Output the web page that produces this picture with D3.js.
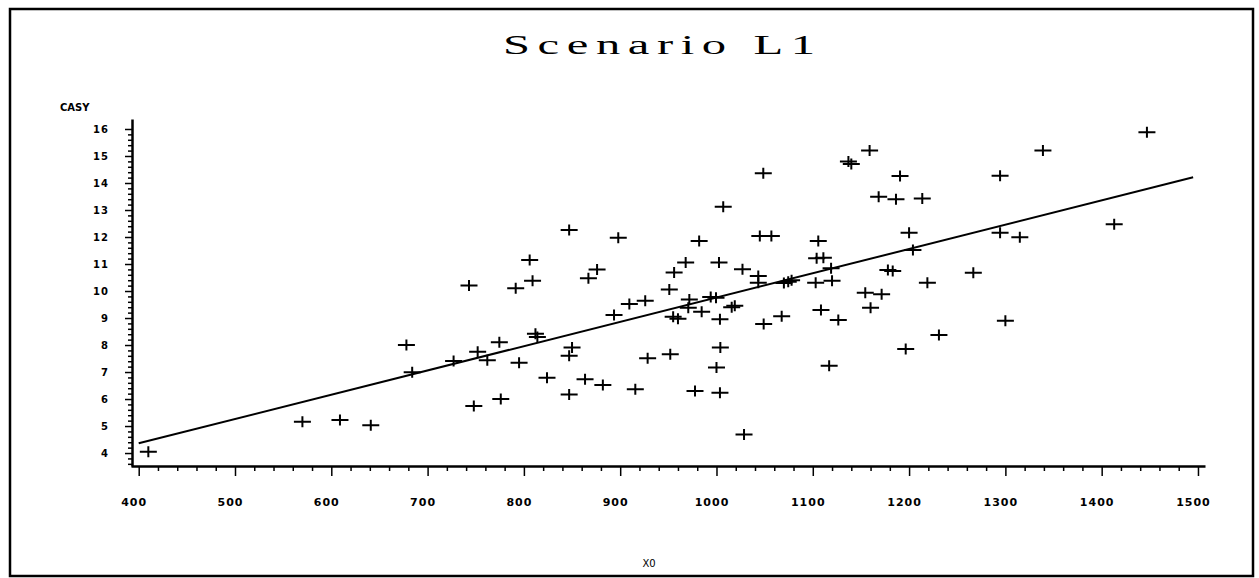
<!DOCTYPE html>
<html>
<head>
<meta charset="utf-8">
<script src="https://cdn.jsdelivr.net/npm/d3@7"></script>
<style>
  html, body { margin: 0; padding: 0; background: #fff; }
  svg { display: block; }
</style>
</head>
<body>
<svg id="chart" width="1259" height="578"></svg>
<script>
// Observations: X0 against CASY
const x0 = [
  410, 570, 609, 641, 678,
  684, 743, 748, 727, 752, 762, 774.5, 776, 791.5, 806, 809, 795, 812, 814, 824,
  847, 850, 847, 847, 863.5, 867, 876, 882, 893.6, 898, 909.5, 915.7, 926, 928.5,
  951, 952, 956, 955, 960,
  968, 971.8, 970.7, 982, 984.6, 977.7, 1002.6, 999.5, 994, 1003.6, 1004, 1000, 1003.6,
  1007, 1015.8, 1019, 1027, 1028.6, 1043.4, 1043.4, 1045, 1057, 1048.6, 1049, 1067.7,
  1074.5, 1078, 1070, 1103, 1105.7, 1104, 1111, 1108.5, 1119, 1120, 1117, 1126.5,
  1137, 1140, 1159, 1154.5, 1171.5, 1160, 1168.4, 1186.4, 1190.6, 1178, 1183,
  1200, 1204, 1213.7, 1219, 1196.5, 1231,
  1266.7, 1294.5, 1294.5, 1300, 1315, 1339, 1413, 1447
];
const casy = [
  4.05, 5.16, 5.22, 5.03, 8.0,
  6.99, 10.2, 5.74, 7.41, 7.75, 7.44, 8.1, 6.0, 10.1, 11.15, 10.38, 7.34, 8.42, 8.3, 6.79,
  12.26, 7.91, 7.6, 6.17, 6.73, 10.47, 10.8, 6.52, 9.11, 11.97, 9.52, 6.36, 9.64, 7.51,
  10.06, 7.66, 10.69, 9.05, 8.97,
  11.06, 9.69, 9.38, 11.85, 9.23, 6.3, 11.06, 9.75, 9.78, 8.95, 7.91, 7.17, 6.23,
  13.12, 9.4, 9.45, 10.81, 4.69, 10.56, 10.31, 12.04, 12.04, 14.36, 8.78, 9.07,
  10.34, 10.4, 10.3, 10.31, 11.85, 11.21, 11.23, 9.3, 10.84, 10.38, 7.23, 8.93,
  14.8, 14.7, 15.2, 9.94, 9.88, 9.38, 13.49, 13.4, 14.26, 10.78, 10.74,
  12.16, 11.52, 13.43, 10.31, 7.85, 8.37,
  10.68, 14.27, 12.16, 8.9, 11.99, 15.2, 12.47, 15.88
];

// Least-squares fit line end points
const fitX = [400, 1495];
const fitY = [4.36, 14.21];

// Axis ticks
const xMajor = [400, 500, 600, 700, 800, 900, 1000, 1100, 1200, 1300, 1400, 1500];
const yMajor = [4, 5, 6, 7, 8, 9, 10, 11, 12, 13, 14, 15, 16];

const titleText = "Scenario L1";
const yLabel = "CASY";
const xLabel = "X0";

const svg = d3.select("#chart");

// frame
svg.append("rect")
  .attr("x", 10).attr("y", 9)
  .attr("width", 1243).attr("height", 567)
  .attr("fill", "none").attr("stroke", "#000").attr("stroke-width", 2.5);

const x = d3.scaleLinear().domain([392, 1507.3]).range([131, 1205]);
const y = d3.scaleLinear().domain([3.52, 16.37]).range([466, 119]);

const xMinor = d3.range(420, 1500, 20).filter(v => v % 100 !== 0);
const yMinor = d3.range(36, 162, 2).map(v => v / 10).filter(v => Math.abs(v - Math.round(v)) > 1e-6);

const font = "'DejaVu Sans', sans-serif";

// x axis
const gx = svg.append("g").attr("transform", "translate(0,466)");
gx.append("g")
  .call(d3.axisBottom(x).tickValues(xMinor).tickSize(5).tickFormat(""))
  .call(g => g.select(".domain").remove())
  .call(g => g.selectAll("line").attr("stroke-width", 1.5));
gx.append("g")
  .call(d3.axisBottom(x).tickValues(xMajor).tickSize(10).tickSizeOuter(0).tickPadding(22)
    .tickFormat(d3.format("d")))
  .call(g => g.select(".domain").attr("stroke-width", 2.5))
  .call(g => g.selectAll("line").attr("stroke-width", 1.5))
  .call(g => g.selectAll("text")
    .attr("font-family", font).attr("font-weight", "bold")
    .attr("font-size", 11).attr("letter-spacing", 1).attr("dx", -5).attr("fill", "#000"));

// y axis
const gy = svg.append("g").attr("transform", "translate(132,0)");
gy.append("g")
  .call(d3.axisLeft(y).tickValues(yMinor).tickSize(4).tickFormat(""))
  .call(g => g.select(".domain").remove())
  .call(g => g.selectAll("line").attr("stroke-width", 1.5));
gy.append("g")
  .call(d3.axisLeft(y).tickValues(yMajor).tickSize(7).tickSizeOuter(0).tickPadding(16))
  .call(g => g.select(".domain").attr("stroke-width", 2.5))
  .call(g => g.selectAll("line").attr("stroke-width", 1.5))
  .call(g => g.selectAll("text")
    .attr("font-family", font).attr("font-weight", "bold")
    .attr("font-size", 10).attr("letter-spacing", 1).attr("fill", "#000"));

// axis labels
svg.append("text")
  .attr("x", 60).attr("y", 111)
  .attr("font-family", font).attr("font-weight", "bold").attr("font-size", 10)
  .text(yLabel);
svg.append("text")
  .attr("x", 649).attr("y", 567).attr("text-anchor", "middle")
  .attr("font-family", font).attr("font-size", 10)
  .text(xLabel);

// title, widened serif
const titleScale = 1.8;
svg.append("g")
  .attr("transform", `translate(503,54) scale(${titleScale},1)`)
  .append("text")
  .attr("x", 0).attr("y", 0)
  .attr("font-family", "'Liberation Serif', serif").attr("font-size", 27)
  .attr("textLength", 312 / titleScale).attr("lengthAdjust", "spacing")
  .text(titleText);

// fit line
svg.append("line")
  .attr("x1", x(fitX[0])).attr("y1", y(fitY[0]))
  .attr("x2", x(fitX[1])).attr("y2", y(fitY[1]))
  .attr("stroke", "#000").attr("stroke-width", 2);

// plus markers
const pts = x0.map((v, i) => [v, casy[i]]);
svg.append("g").selectAll("path").data(pts).join("path")
  .attr("transform", d => `translate(${x(d[0])},${y(d[1])})`)
  .attr("d", "M-8.5,0H8.5M0,-5.5V5.5")
  .attr("stroke", "#000").attr("stroke-width", 2).attr("fill", "none");
</script>
</body>
</html>
